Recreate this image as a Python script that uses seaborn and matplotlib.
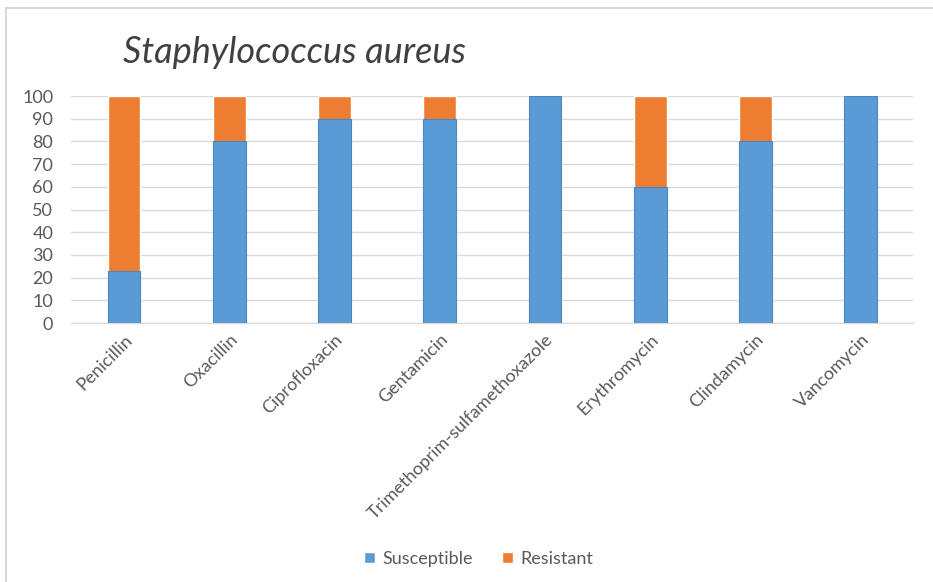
import matplotlib
matplotlib.use("Agg")
import matplotlib.pyplot as plt
import seaborn as sns
import pandas as pd
from matplotlib.patches import Patch, Rectangle

antibiotics = ["Penicillin", "Oxacillin", "Ciprofloxacin", "Gentamicin",
               "Trimethoprim-sulfamethoxazole", "Erythromycin", "Clindamycin", "Vancomycin"]
susceptible = [23, 80, 90, 90, 100, 60, 80, 100]
resistant = [77, 20, 10, 10, 0, 40, 20, 0]

df = pd.DataFrame({"Antibiotic": antibiotics, "Susceptible": susceptible, "Resistant": resistant})
df["Total"] = df["Susceptible"] + df["Resistant"]

sns.set_style("white")
plt.rcParams["font.family"] = ["Lato", "DejaVu Sans"]

blue = "#5B9BD5"
orange = "#ED7D31"
text_col = "#595959"

fig = plt.figure(figsize=(9.33, 5.82), dpi=100)
ax = fig.add_axes([0.0765, 0.445, 0.9025, 0.39])

sns.barplot(data=df, x="Antibiotic", y="Total", color=orange, width=0.31,
            saturation=1, ax=ax, zorder=2)
sns.barplot(data=df, x="Antibiotic", y="Susceptible", color=blue, width=0.31,
            saturation=1, ax=ax, zorder=3, edgecolor="#4A86C0", linewidth=0.8)

ax.set_ylim(0, 100)
ax.set_xlim(-0.5, len(antibiotics) - 0.5)
ax.set_yticks(range(0, 101, 10))
ax.yaxis.grid(True, color="#D9D9D9", linewidth=1, zorder=0)
ax.set_axisbelow(True)
for s in ["top", "right", "left"]:
    ax.spines[s].set_visible(False)
ax.spines["bottom"].set_color("#D9D9D9")
ax.set_xlabel("")
ax.set_ylabel("")
ax.tick_params(axis="both", length=0, labelsize=13, labelcolor=text_col)
ax.tick_params(axis="y", pad=13)
ax.tick_params(axis="x", pad=6)
plt.setp(ax.get_xticklabels(), rotation=45, ha="right", rotation_mode="anchor")

fig.text(0.132, 0.91, "Staphylococcus aureus", fontsize=26, style="italic",
         color="#404040", va="center", ha="left")

handles = [Patch(facecolor=blue, label="Susceptible"), Patch(facecolor=orange, label="Resistant")]
fig.legend(handles=handles, loc="center", bbox_to_anchor=(0.513, 0.04), ncol=2,
           frameon=False, fontsize=13, handlelength=0.6, handleheight=0.6,
           columnspacing=1.6, handletextpad=0.4, labelcolor=text_col)

# light frame along top and left edge
fig.patches.append(Rectangle((0.0065, -0.05), 1.05, 1.036, transform=fig.transFigure,
                             fill=False, edgecolor="#D0D0D0", linewidth=1.2))

fig.savefig("out.png", dpi=100)
